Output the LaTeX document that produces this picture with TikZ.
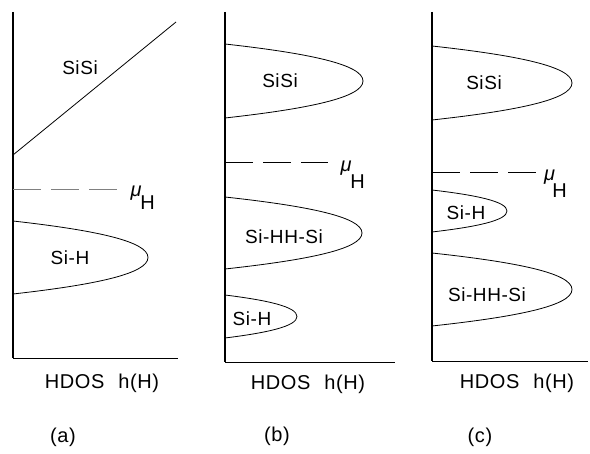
\documentclass[tikz,border=0pt]{standalone}
\usepackage{fontspec}
\setmainfont{Liberation Sans}[LetterSpace=3]
\newcommand{\hbump}[4]{%
 \draw[curve] (#1,#2) .. controls ({#1+0.6*(#4-#1)},{#2+0.125*(#3-#2)}) and (#4,{#2+0.275*(#3-#2)}) .. (#4,{(#2+#3)/2})
   .. controls (#4,{#3-0.275*(#3-#2)}) and ({#1+0.6*(#4-#1)},{#3-0.125*(#3-#2)}) .. (#1,#3);}
\tikzset{
  axis/.style={line width=1.6pt},
  haxis/.style={line width=0.9pt},
  curve/.style={line width=0.8pt},
  mudash/.style={line width=1pt, dash pattern=on 28pt off 10pt},
  lbl/.style={inner sep=0pt, font=\fontsize{19}{21}\selectfont},
  xlbl/.style={inner sep=0pt, font=\fontsize{20}{22}\selectfont},
  mulbl/.style={inner sep=0pt, font=\fontsize{20}{22}\selectfont\itshape},
  hlbl/.style={inner sep=0pt, font=\fontsize{20}{22}\selectfont},
}
\begin{document}
\begin{tikzpicture}[x=1pt,y=-1pt]
\useasboundingbox (0,0) rectangle (590,454);
% ---------- (a)
\draw[axis] (13,12) -- (13,358);
\draw[haxis] (13,358) -- (178,358);
\draw[curve] (13,155) -- (176,22);
\draw[mudash, gray] (13,190) -- (118,190);
\hbump{13}{221}{294}{148}
\node[lbl] (aSiSi) at (80,68) {SiSi};
\node[lbl] (aSiH) at (70,258) {Si-H};
\node[mulbl] (amu) at (136,193) {μ};
\node[hlbl] (aH) at (147.5,202.5) {H};
\node[xlbl] (ax) at (102,383) {HDOS\hspace{14pt}h(H)};
\node[xlbl] (acap) at (63,437) {(a)};
% ---------- (b)
\draw[axis] (225,12) -- (225,362);
\draw[haxis] (225,362) -- (395,362);
\hbump{225}{44}{118}{363}
\draw[mudash] (225,163) -- (328,163);
\hbump{225}{197}{269}{362}
\hbump{225}{295}{338}{297}
\node[lbl] (bSiSi) at (280,81) {SiSi};
\node[lbl] (bSiHH) at (284,237) {Si-HH-Si};
\node[lbl] (bSiH) at (252,319) {Si-H};
\node[mulbl] (bmu) at (346,168) {μ};
\node[hlbl] (bH) at (357.5,181.5) {H};
\node[xlbl] (bx) at (308,384) {HDOS\hspace{14pt}h(H)};
\node[xlbl] (bcap) at (277,436) {(b)};
% ---------- (c)
\draw[axis] (432,12) -- (432,361);
\draw[haxis] (432,361) -- (588,361);
\hbump{432}{46}{120}{572}
\draw[mudash] (432,173) -- (540,173);
\hbump{432}{190}{232}{507}
\hbump{432}{253}{326}{572}
\node[lbl] (cSiSi) at (484,83) {SiSi};
\node[lbl] (cSiH) at (466,212.5) {Si-H};
\node[lbl] (cSiHH) at (487,295) {Si-HH-Si};
\node[mulbl] (cmu) at (549.5,177) {μ};
\node[hlbl] (cH) at (559.5,191) {H};
\node[xlbl] (cx) at (517,383) {HDOS\hspace{14pt}h(H)};
\node[xlbl] (ccap) at (480,437) {(c)};
\end{tikzpicture}
\end{document}
